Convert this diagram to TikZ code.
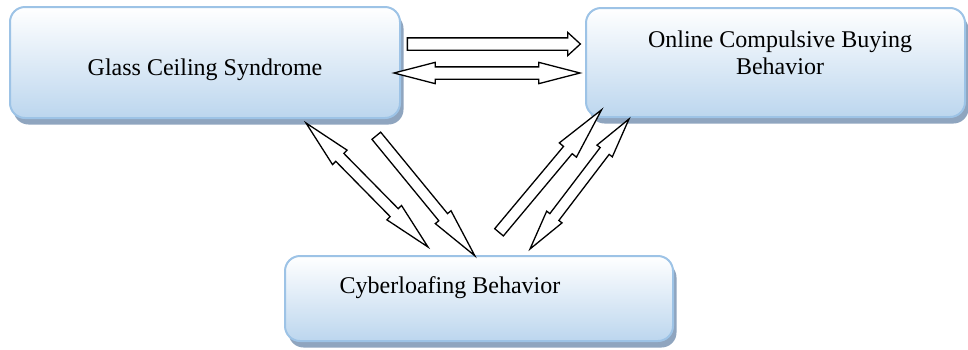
\documentclass[tikz,border=0pt]{standalone}
\usepackage{fontspec}
\setmainfont{Liberation Serif}
\usetikzlibrary{shapes.arrows,shadows,calc}
\definecolor{boxline}{HTML}{9DC3E6}
\definecolor{boxfill}{HTML}{BCD6EE}
\definecolor{boxshadow}{HTML}{8FA5BF}
\tikzset{
  box/.style={rectangle, rounded corners=15pt, draw=boxline, line width=2pt,
    top color=white, bottom color=boxfill, inner sep=0pt,
    drop shadow={shadow xshift=3.5pt, shadow yshift=-6.5pt, opacity=1, fill=boxshadow}},
  lbl/.style={font=\fontsize{24}{27}\selectfont, inner sep=0pt, anchor=base},
  arrowbase/.style={draw=black, fill=white, line width=1.3pt, inner xsep=0pt,
    outer sep=0pt, line join=miter},
  sarrow/.style={arrowbase, single arrow},
  darrow/.style={arrowbase, double arrow},
}
\newcommand\blockarrow[4][]{%
  \path let \p1=(#3), \p2=(#4),
    \n1={atan2(\y2-\y1,\x2-\x1)}, \n2={veclen(\x2-\x1,\y2-\y1)} in
    node[#1, rotate=\n1, minimum height=\n2] (#2) at ($(\p1)!0.5!(\p2)$) {};}
\begin{document}
\begin{tikzpicture}[x=1pt, y=-1pt]
\useasboundingbox (0,0) rectangle (968,349);
% boxes
\node[box, minimum width=390pt, minimum height=111pt] (gcs) at (205,62.5) {};
\node[box, minimum width=379pt, minimum height=109pt] (ocb) at (775.5,62.5) {};
\node[box, minimum width=388pt, minimum height=85pt] (cyb) at (479,298.5) {};
% labels
\node[lbl] (gcst) at (205,75) {Glass Ceiling Syndrome};
\node[lbl] (ocbt) at (780,47) {\begin{tabular}[t]{@{}c@{}}Online Compulsive Buying\\Behavior\end{tabular}};
\node[lbl] (cybt) at (450,293) {Cyberloafing Behavior};
% arrow end points
\coordinate (h1a) at (404,44);   \coordinate (h1b) at (577,44);
\coordinate (h2a) at (394,73);   \coordinate (h2b) at (580,73);
\coordinate (la1) at (306,123);  \coordinate (la2) at (428,247);
\coordinate (lb1) at (367.5,125);\coordinate (lb2) at (466,245);
\coordinate (rc1) at (490.5,242.5); \coordinate (rc2) at (593,120);
\coordinate (rd1) at (530,249);  \coordinate (rd2) at (629,119);
% block arrows
\blockarrow[sarrow, inner ysep=5.5pt, single arrow head extend=5.5pt, single arrow tip angle=85]{arrH1}{h1a}{h1b}
\blockarrow[darrow, inner ysep=5.5pt, double arrow head extend=4.5pt, double arrow tip angle=29]{arrH2}{h2a}{h2b}
\blockarrow[darrow, inner ysep=5pt, double arrow head extend=4.6pt, double arrow tip angle=24]{arrA}{la1}{la2}
\blockarrow[sarrow, inner ysep=5pt, single arrow head extend=4.5pt, single arrow tip angle=23]{arrB}{lb1}{lb2}
\blockarrow[sarrow, inner ysep=5pt, single arrow head extend=5.5pt, single arrow tip angle=24]{arrC}{rc1}{rc2}
\blockarrow[darrow, inner ysep=5pt, double arrow head extend=4pt, double arrow tip angle=27]{arrD}{rd1}{rd2}
\end{tikzpicture}
\end{document}
